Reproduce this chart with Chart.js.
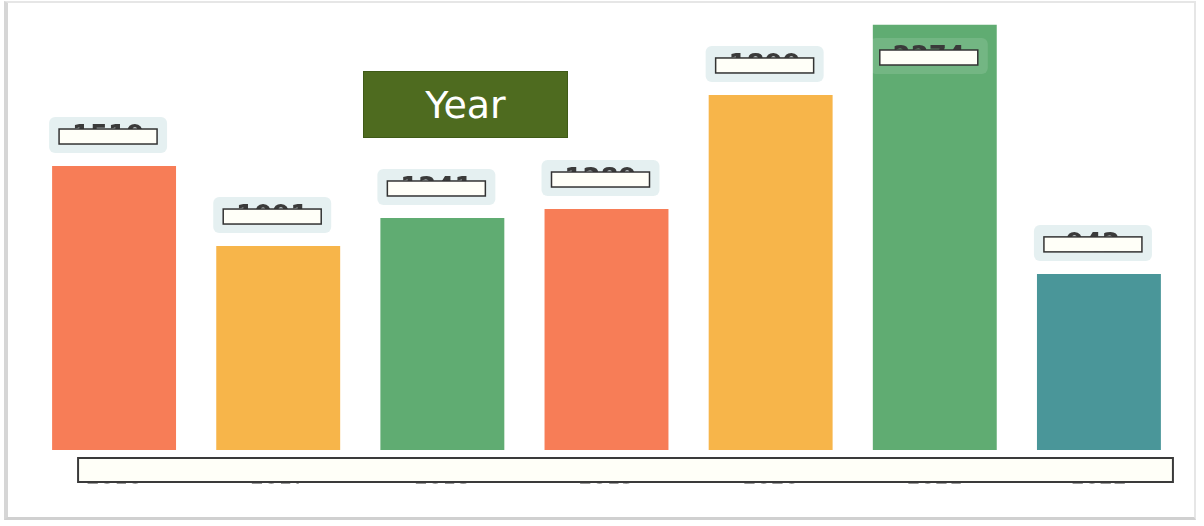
<!DOCTYPE html>
<html>
<head>
<meta charset="utf-8">
<script src="https://cdn.jsdelivr.net/npm/chart.js@4/dist/chart.umd.min.js"></script>
<style>
  html, body { margin: 0; padding: 0; background: #fff; }
  #wrap { position: relative; width: 1204px; height: 526px; overflow: hidden; }
  #frame {
    position: absolute; left: 4px; top: 1px; width: 1192px; height: 519px;
    border-left: 4px solid #d6d6d6; border-top: 2px solid #e6e6e6;
    border-bottom: 3px solid #d0d0d0; border-right: 2px solid #e6e6e6;
    box-sizing: border-box;
  }
  #chart { position: absolute; left: 0; top: 0; }
  #title {
    position: absolute; left: 363px; top: 71px; width: 205px; height: 67px;
    background: #4e6b1f; border: 1px solid #3f5a17; box-sizing: border-box;
    color: #fff; font: 38px "DejaVu Sans", Verdana, sans-serif;
    display: flex; align-items: center; justify-content: center;
  }
</style>
</head>
<body>
<div id="wrap">
  <div id="frame"></div>
  <canvas id="chart" width="1204" height="526"></canvas>
  <div id="title">Year</div>
</div>
<script>
  const years = ["2016", "2017", "2018", "2019", "2020", "2021", "2022"];
  const counts = [1519, 1091, 1241, 1289, 1899, 2274, 942];
  const barColors = ["#f77d57", "#f7b54a", "#60ac72", "#f77d57", "#f7b54a", "#60ac72", "#4a9699"];
  const yMax = 2300;

  // value badges above bars, with the white boxes seen in the picture
  const badgePlugin = {
    id: "badges",
    afterDatasetsDraw(chart) {
      const ctx = chart.ctx;
      const meta = chart.getDatasetMeta(0);
      const top = chart.chartArea.top;
      ctx.save();
      meta.data.forEach((bar, i) => {
        const w = 118, h = 36;
        let by = bar.y - 13 - h;
        const inside = by < top + 18;
        if (inside) by = top + 18;
        const bx = bar.x - w / 2 - 6;
        ctx.fillStyle = inside ? "rgba(255, 255, 255, 0.12)" : "rgba(228, 239, 240, 0.95)";
        ctx.beginPath();
        ctx.roundRect(bx, by, w, h, 6);
        ctx.fill();
        ctx.fillStyle = "#3a3a3a";
        ctx.font = "bold 26px 'DejaVu Sans', sans-serif";
        ctx.textAlign = "center";
        ctx.textBaseline = "middle";
        ctx.fillText(counts[i], bx + w / 2, by + h / 2 + 2);
        ctx.fillStyle = "#fffff8";
        ctx.strokeStyle = "#333";
        ctx.lineWidth = 1.5;
        ctx.fillRect(bx + 10, by + 12, 98, 15);
        ctx.strokeRect(bx + 10, by + 12, 98, 15);
      });
      // box over the x axis labels
      const xs = chart.scales.x;
      const x0 = xs.getPixelForValue(0) - 36;
      const x1 = xs.getPixelForValue(years.length - 1) + 74;
      ctx.fillStyle = "#fffff8";
      ctx.strokeStyle = "#3a3a3a";
      ctx.lineWidth = 2;
      ctx.fillRect(x0, xs.top + 8, x1 - x0, 24);
      ctx.strokeRect(x0, xs.top + 8, x1 - x0, 24);
      ctx.restore();
    },
  };

  new Chart(document.getElementById("chart"), {
    type: "bar",
    data: {
      labels: years,
      datasets: [
        {
          data: counts,
          backgroundColor: barColors,
          borderWidth: 0,
          categoryPercentage: 1,
          barPercentage: 0.755,
        },
      ],
    },
    options: {
      responsive: false,
      animation: false,
      layout: { padding: { left: 32, right: 23, top: 20, bottom: 0 } },
      plugins: { legend: { display: false }, title: { display: false }, tooltip: { enabled: false } },
      scales: {
        x: {
          grid: { display: false },
          border: { display: false },
          ticks: { color: "#999", font: { size: 22, family: "DejaVu Sans" }, padding: 7 },
          afterFit(scale) { scale.height = 76; },
        },
        y: { display: false, min: 0, max: yMax },
      },
    },
    plugins: [badgePlugin],
  });
</script>
</body>
</html>
